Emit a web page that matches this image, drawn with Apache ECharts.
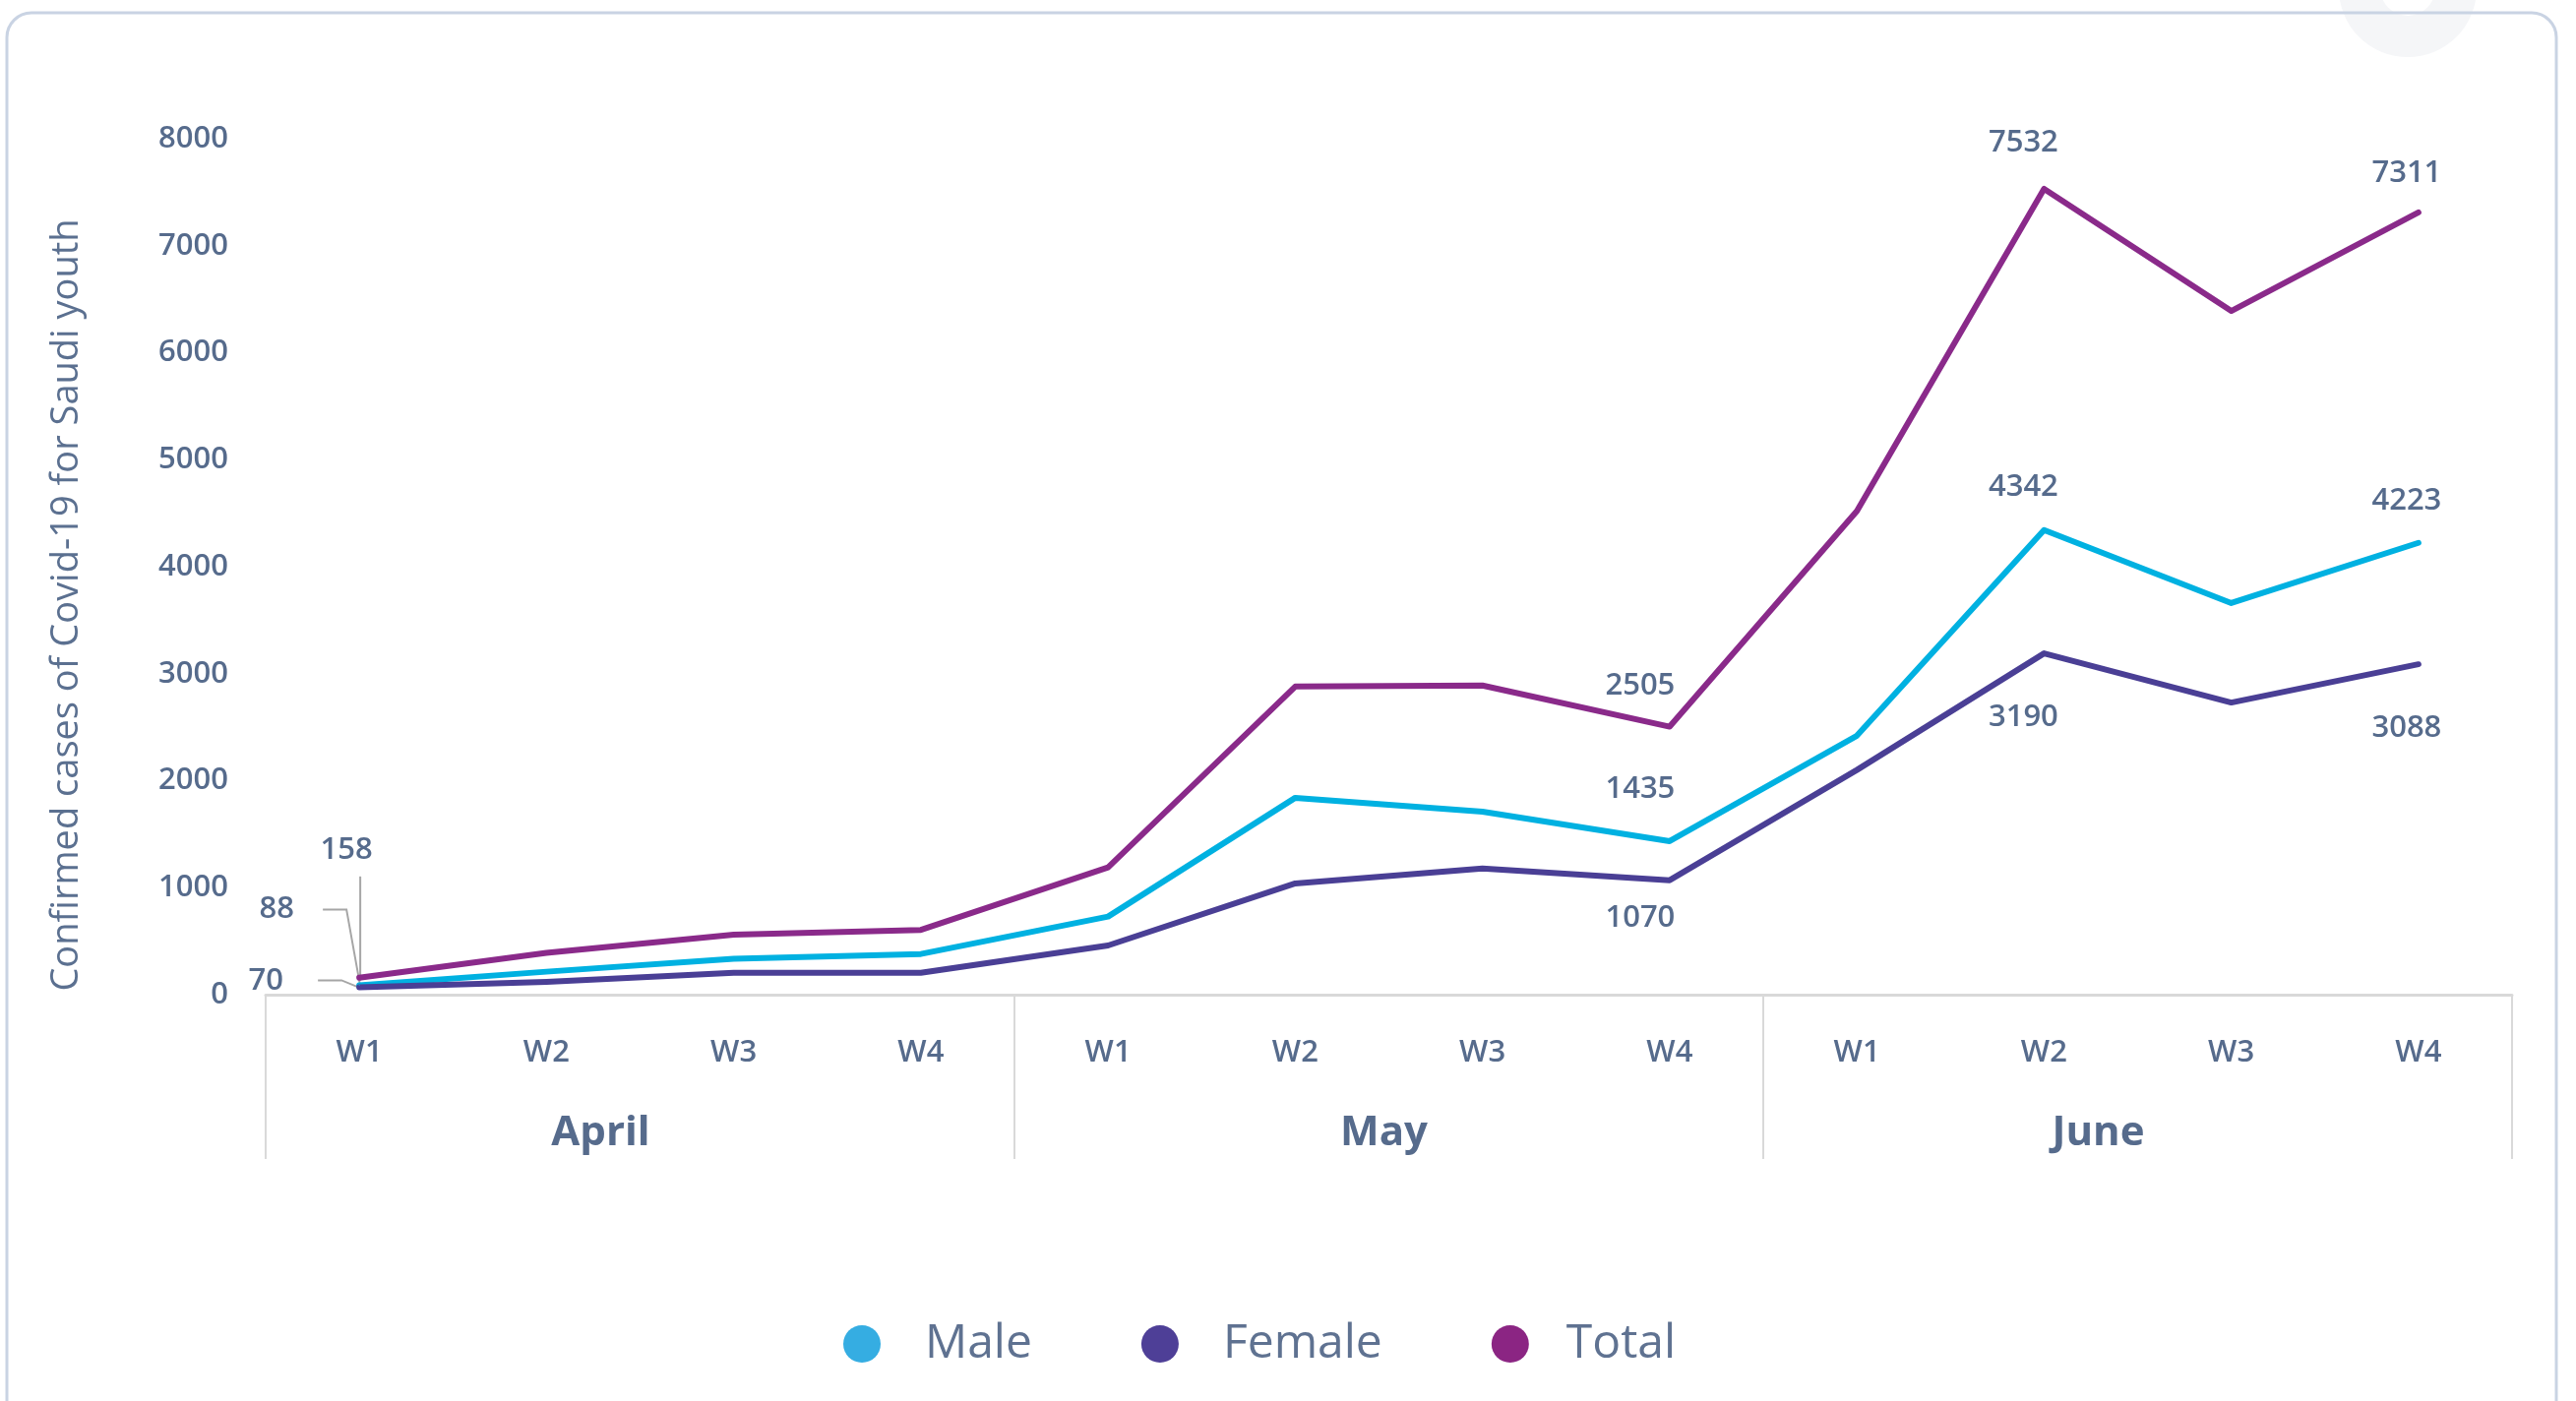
<!DOCTYPE html>
<html>
<head>
<meta charset="utf-8">
<title>Confirmed cases of Covid-19 for Saudi youth</title>
<script src="https://cdn.jsdelivr.net/npm/echarts@6/dist/echarts.min.js"></script>
<style>
  html, body { margin: 0; padding: 0; background: #ffffff; }
  #chart { width: 2618px; height: 1424px; }
</style>
</head>
<body>
<div id="chart"></div>
<script>
// Weekly confirmed cases, April to June
const months = ['April', 'May', 'June'];
const weeks = ['W1', 'W2', 'W3', 'W4', 'W1', 'W2', 'W3', 'W4', 'W1', 'W2', 'W3', 'W4'];
const male = [88, 215, 335, 380, 730, 1840, 1710, 1435, 2420, 4342, 3660, 4223];
const female = [70, 120, 205, 205, 460, 1040, 1180, 1070, 2100, 3190, 2730, 3088];
const total = [158, 390, 560, 605, 1190, 2880, 2890, 2505, 4520, 7532, 6390, 7311];
const yTicks = [0, 1000, 2000, 3000, 4000, 5000, 6000, 7000, 8000];

const textColor = '#566b8c';
const colors = { male: '#00b1e1', female: '#4a3f95', total: '#8a2a8a' };
const legendColors = { male: '#35ade2', female: '#4e3f97', total: '#8b2583' };
const labelFont = { fontFamily: 'Open Sans', fontSize: 31, fontWeight: 600, color: textColor };

// label offsets (label centre relative to the point) for the annotated weeks
const totalOffsets = { 0: [-13, -130], 7: [-30, -41], 9: [-21, -47], 11: [-12, -40] };
const maleOffsets = { 0: [-84, -77], 7: [-30, -53], 9: [-21, -44], 11: [-12, -43] };
const femaleOffsets = { 0: [-95, -6], 7: [-30, 39], 9: [-21, 65], 11: [-12, 65] };

function withLabels(values, offsets) {
  return values.map(function (v, i) {
    if (!offsets[i]) return v;
    return { value: v, label: { show: true, offset: offsets[i] } };
  });
}

function lineSeries(name, values, color, offsets) {
  return {
    name: name,
    type: 'line',
    data: withLabels(values, offsets),
    symbol: 'circle',
    symbolSize: 1,
    showSymbol: true,
    itemStyle: { color: color },
    lineStyle: { color: color, width: 6, cap: 'round', join: 'round' },
    label: Object.assign({ show: false, position: 'inside', align: 'center', verticalAlign: 'middle' }, labelFont),
    emphasis: { disabled: true },
    z: 3
  };
}

// leader-line shapes for the first-week labels, relative to the point
const leaderShapes = [
  [[1, -103], [1, 3]],
  [[-37, -77], [-13, -77], [1, 1]],
  [[-42, -7], [-18, -7], [-1, 0]]
];

const monthShift = [80, 10, 80];

const chart = echarts.init(document.getElementById('chart'), null, { renderer: 'canvas' });

chart.setOption({
  animation: false,
  backgroundColor: '#ffffff',
  textStyle: { fontFamily: 'Open Sans' },
  grid: { left: 270, right: 65, top: 141, bottom: 413, containLabel: false },
  legend: {
    data: [
      { name: 'Male', itemStyle: { color: legendColors.male } },
      { name: 'Female', itemStyle: { color: legendColors.female } },
      { name: 'Total', itemStyle: { color: legendColors.total }, textStyle: { padding: [0, 0, 0, 33] } }
    ],
    left: 852,
    top: 1337,
    icon: 'circle',
    itemWidth: 38,
    itemHeight: 38,
    itemGap: 111,
    selectedMode: false,
    textStyle: { fontFamily: 'Open Sans', fontSize: 48, color: '#5f7291', padding: [0, 0, 0, 40], lineHeight: 48 }
  },
  xAxis: [
    {
      type: 'category',
      data: weeks,
      boundaryGap: true,
      position: 'bottom',
      axisLine: { show: true, lineStyle: { color: '#d9d9d9', width: 3 } },
      axisTick: { show: false },
      axisLabel: Object.assign({ interval: 0, margin: 44 }, labelFont),
      splitLine: { show: false }
    },
    {
      type: 'category',
      data: months.map(function (m, i) {
        return { value: m, textStyle: { padding: [0, monthShift[i], 0, 0] } };
      }),
      boundaryGap: true,
      position: 'bottom',
      axisLine: { show: false },
      axisTick: { show: true, length: 167, lineStyle: { color: '#d9d9d9', width: 2 } },
      axisLabel: { interval: 0, margin: 120, fontFamily: 'Open Sans', fontSize: 42, fontWeight: 700, color: textColor },
      splitLine: { show: false }
    }
  ],
  yAxis: {
    type: 'value',
    min: yTicks[0],
    max: yTicks[yTicks.length - 1],
    interval: yTicks[1] - yTicks[0],
    axisLine: { show: false },
    axisTick: { show: false },
    splitLine: { show: false },
    axisLabel: Object.assign({ margin: 38, formatter: function (v) { return String(v); } }, labelFont)
  },
  graphic: [
    {
      type: 'ring',
      shape: { cx: 2447, cy: -12, r: 70, r0: 28 },
      style: { fill: '#f5f6f8' },
      z: -2,
      silent: true
    },
    {
      type: 'rect',
      shape: { x: 7, y: 13, width: 2591, height: 1500, r: 25 },
      style: { fill: null, stroke: '#c9d3e3', lineWidth: 3 },
      z: -1,
      silent: true
    },
    {
      type: 'text',
      x: 68,
      y: 615,
      rotation: Math.PI / 2,
      style: {
        text: 'Confirmed cases of Covid-19 for Saudi youth',
        fontFamily: 'Open Sans',
        fontSize: 38,
        fill: '#5b7090',
        align: 'center',
        verticalAlign: 'middle'
      },
      silent: true
    }
  ],
  series: [
    lineSeries('Male', male, colors.male, maleOffsets),
    lineSeries('Female', female, colors.female, femaleOffsets),
    lineSeries('Total', total, colors.total, totalOffsets),
    {
      type: 'custom',
      name: 'leaders',
      data: [[0, total[0]], [0, male[0]], [0, female[0]]],
      renderItem: function (params, api) {
        const p = api.coord([api.value(0), api.value(1)]);
        const pts = leaderShapes[params.dataIndex].map(function (d) { return [p[0] + d[0], p[1] + d[1]]; });
        return {
          type: 'polyline',
          shape: { points: pts },
          style: { stroke: '#a6a6a6', lineWidth: 2, fill: null }
        };
      },
      silent: true,
      z: 2
    }
  ]
});
</script>
</body>
</html>
